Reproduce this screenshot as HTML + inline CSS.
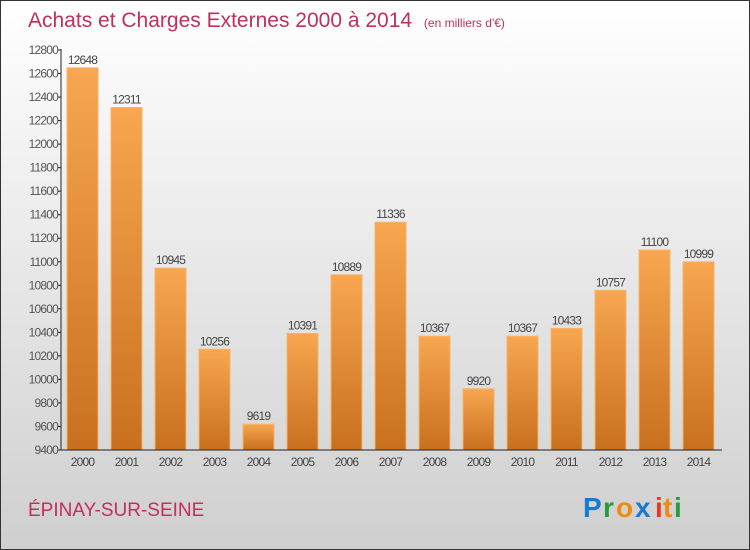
<!DOCTYPE html>
<html><head><meta charset="utf-8"><style>
body{margin:0;width:750px;height:550px;overflow:hidden}
svg{display:block;font-family:"Liberation Sans",sans-serif}
</style></head><body>
<svg id="c" width="750" height="550">
<defs>
<linearGradient id="bg" x1="0" y1="0" x2="0" y2="1"><stop offset="0" stop-color="#ffffff"/><stop offset="1" stop-color="#cfcfcf"/></linearGradient>
<linearGradient id="bar" x1="0" y1="0" x2="0" y2="1"><stop offset="0" stop-color="#f8a650"/><stop offset="1" stop-color="#c8701e"/></linearGradient>
</defs>
<rect x="0.5" y="0.5" width="749" height="549" fill="url(#bg)" stroke="#333"/>
<text x="28" y="27" font-size="21" fill="#c0305a">Achats et Charges Externes 2000 à 2014 <tspan font-size="12" dx="6">(en milliers d'€)</tspan></text>
<g id="yaxis"></g>
<g id="bars"></g>
<g id="xaxis"></g>
<text x="28" y="516" font-size="19" fill="#c0305a">ÉPINAY-SUR-SEINE</text>
<g font-size="28" font-weight="bold">
<text x="583" y="517" fill="#1a7ad0">P</text><text x="603" y="517" fill="#2a9a3a">r</text><text x="616" y="517" fill="#f08a10">o</text><text x="635" y="517" fill="#1a7ad0">x</text><text x="655" y="517" fill="#e03a20">i</text><text x="663" y="517" fill="#f08a10">t</text><text x="674" y="517" fill="#2a9a3a">i</text>
</g>
</svg>
<script>
const categories=["2000","2001","2002","2003","2004","2005","2006","2007","2008","2009","2010","2011","2012","2013","2014"];
const values=[12648,12311,10945,10256,9619,10391,10889,11336,10367,9920,10367,10433,10757,11100,10999];
const yTicks=[9400,9600,9800,10000,10200,10400,10600,10800,11000,11200,11400,11600,11800,12000,12200,12400,12600,12800];
const NS="http://www.w3.org/2000/svg";
const y0=450,y1=50,vmin=9400,vmax=12800,xl=61,step=44,bw=31;
const Y=v=>y0-(v-vmin)/(vmax-vmin)*(y0-y1);
const X=i=>67+i*step;
function mk(t,a,p){const e=document.createElementNS(NS,t);for(const k in a)e.setAttribute(k,a[k]);p.appendChild(e);return e;}
const ya=document.getElementById('yaxis'),ba=document.getElementById('bars'),xa=document.getElementById('xaxis');
let l=mk('line',{x1:xl,y1:y1-1,x2:xl,y2:y0,stroke:'#222'},ya);


yTicks.forEach(v=>{
 const t=mk('line',{x1:xl-3,x2:xl,y1:Y(v),y2:Y(v),stroke:'#222'},ya);
 
 
 const tx=mk('text',{x:xl-3,y:Y(v)+4,'font-size':12,fill:'#555','text-anchor':'end','letter-spacing':'-0.8'},ya);
 tx.textContent=v;
 
 
});
let xl2=mk('line',{x1:xl,y1:y0,x2:722,y2:y0,stroke:'#222'},xa);


values.forEach((v,i)=>{
 const r=mk('rect',{x:X(i),y:Y(v),width:bw,height:y0-Y(v),fill:'url(#bar)',stroke:'#f6b46a','stroke-width':1},ba);
 
 
 const t=mk('text',{x:X(i)+bw/2,y:Y(v)-4,'font-size':12,fill:'#444','text-anchor':'middle','letter-spacing':'-0.8'},ba);
 t.textContent=v;
 
 
 const c=mk('text',{x:X(i)+bw/2,y:466,'font-size':12,fill:'#444','text-anchor':'middle','letter-spacing':'-0.8'},xa);
 c.textContent=categories[i];
 
 
});
</script>
</body></html>
